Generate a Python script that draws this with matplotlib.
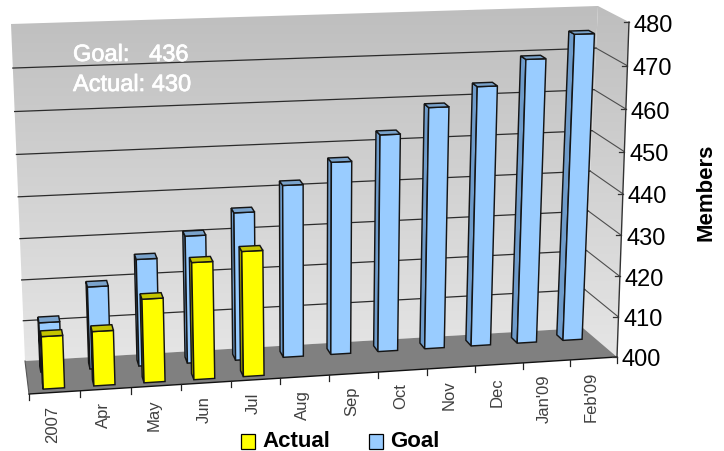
#!/usr/bin/env python3
import numpy as np
import matplotlib
matplotlib.use("Agg")
import matplotlib.pyplot as plt
import matplotlib.patheffects as pe
from matplotlib.patches import Polygon, Rectangle

# -------- Data --------
months = ["2007", "Apr", "May", "Jun", "Jul", "Aug", "Sep", "Oct", "Nov", "Dec", "Jan'09", "Feb'09"]
goal = [412, 420, 426, 431, 436, 442, 447, 453, 459, 463.5, 469.5, 475]
actual = [412.5, 413, 420, 428, 430]
value_ticks = [400, 410, 420, 430, 440, 450, 460, 470, 480]

# -------- Box corners in pixels: (front/back, left/right, bottom/top) --------
corners = {
    ("f", "l", "b"): (29, 395), ("f", "r", "b"): (617, 358),
    ("f", "l", "t"): (15, 42), ("f", "r", "t"): (629, 23),
    ("k", "l", "b"): (25, 362), ("k", "r", "b"): (583, 329),
    ("k", "l", "t"): (11, 25), ("k", "r", "t"): (598, 7),
}
N = len(months)
VMIN, VMAX = value_ticks[0], value_ticks[-1]


def persp(t, r):
    return r * t / (r * t + 1 - t)


def project(u, v, d):
    # u = category position, v = axis value, d = depth (0 front, 1 back)
    s = persp(u / N, 1.045)
    h = persp((v - VMIN) / (VMAX - VMIN), 0.95)
    out = np.zeros(2)
    for dk, wd in (("f", 1 - d), ("k", d)):
        for xk, wx in (("l", 1 - s), ("r", s)):
            for yk, wy in (("b", 1 - h), ("t", h)):
                out += wd * wx * wy * np.array(corners[(dk, xk, yk)])
    return tuple(out)


def gradient_poly(ax, pts, top_col, bottom_col, z):
    ys = [p[1] for p in pts]
    xs = [p[0] for p in pts]
    img = np.linspace(0, 1, 256).reshape(-1, 1, 1)
    rgb = (1 - img) * np.array(top_col) + img * np.array(bottom_col)
    im = ax.imshow(rgb, extent=[min(xs), max(xs), max(ys), min(ys)], aspect="auto", zorder=z)
    im.set_clip_path(Polygon(pts, transform=ax.transData))


def draw_bar(ax, u, value, d0, d1, front, shade, top):
    w = 0.21
    l, r = u - w, u + w
    side_face = [project(l, VMIN, d0), project(l, VMIN, d1), project(l, value, d1), project(l, value, d0)]
    front_face = [project(l, VMIN, d0), project(r, VMIN, d0), project(r, value, d0), project(l, value, d0)]
    top_face = [project(l, value, d0), project(r, value, d0), project(r, value, d1), project(l, value, d1)]
    for pts, col in ((side_face, shade), (front_face, front), (top_face, top)):
        ax.add_patch(Polygon(pts, closed=True, facecolor=col, edgecolor="#141414", lw=1.05, zorder=5))


# -------- Figure --------
fig = plt.figure(figsize=(7.24, 4.52), dpi=100)
ax = fig.add_axes([0, 0, 1, 1])
plt.rcParams["font.family"] = ["Liberation Sans", "DejaVu Sans"]
ax.axis("off")

# Walls
back_wall = [project(0, VMIN, 1), project(N, VMIN, 1), project(N, VMAX, 1), project(0, VMAX, 1)]
side_wall = [project(N, VMIN, 1), project(N, VMIN, 0), project(N, VMAX, 0), project(N, VMAX, 1)]
gradient_poly(ax, back_wall, (0.745, 0.745, 0.745), (0.90, 0.90, 0.90), 1)
gradient_poly(ax, side_wall, (0.745, 0.745, 0.745), (0.90, 0.90, 0.90), 1)
ax.set_xlim(0, 724)
ax.set_ylim(452, 0)

# Gridlines on both walls
for v in value_ticks[1:-1]:
    a, b, c = project(0, v, 1), project(N, v, 1), project(N, v, 0)
    ax.plot([a[0], b[0]], [a[1], b[1]], color="#2b2b2b", lw=0.9, zorder=2)
    ax.plot([b[0], c[0]], [b[1], c[1]], color="#4d4d4d", lw=0.8, zorder=2)

# Floor
floor = [project(0, VMIN, 0), project(N, VMIN, 0), project(N, VMIN, 1), project(0, VMIN, 1)]
ax.add_patch(Polygon(floor, closed=True, facecolor="#808080", edgecolor="none", zorder=3))

# Axes lines and ticks
p0, p1 = project(0, VMIN, 0), project(N, VMIN, 0)
ax.plot([p0[0], p1[0]], [p0[1], p1[1]], color="#111111", lw=1.0, zorder=4)
p2, p3 = project(N, VMIN, 0), project(N, VMAX, 0)
ax.plot([p2[0], p3[0]], [p2[1], p3[1]], color="#333333", lw=1.0, zorder=4)
p4 = project(0, VMIN, 1)
ax.plot([p0[0], p4[0]], [p0[1], p4[1]], color="#555555", lw=0.8, zorder=4)
for i in range(N + 1):
    p = project(i, VMIN, 0)
    ax.plot([p[0], p[0]], [p[1], p[1] + 6], color="#222222", lw=0.9, zorder=4)

for v in value_ticks:
    p = project(N, v, 0)
    ax.plot([p[0] - 5, p[0]], [p[1], p[1]], color="#333333", lw=0.9, zorder=4)
    ax.text(p[0] + 5, p[1], str(v), fontsize=17, color="black", ha="left", va="center_baseline")

for i, m in enumerate(months):
    p = project(i + 0.5, VMIN, 0)
    ax.text(p[0] - 2, p[1] + 12, m, rotation=90, fontsize=12, color="#404040", ha="center", va="top")

# Bars: goal row sits behind the actual row
for i, g in enumerate(goal):
    draw_bar(ax, i + 0.5, g, 0.64, 0.83, "#99CCFF", "#6F9CCB", "#7AA3CC")
for i, a in enumerate(actual):
    draw_bar(ax, i + 0.5, a, 0.12, 0.31, "#FFFF00", "#999900", "#C4C400")

# Annotation and labels
halo = [pe.withStroke(linewidth=0.5, foreground="white")]
ax.text(73, 56, "Goal:   436", fontsize=17, color="white", ha="left", va="center", zorder=6, path_effects=halo)
ax.text(73, 86, "Actual: 430", fontsize=17, color="white", ha="left", va="center", zorder=6, path_effects=halo)
ax.text(706, 192, "Members", rotation=90, fontsize=16, fontweight="bold", ha="center", va="center")

# Legend
ax.add_patch(Rectangle((241, 435), 14, 15, facecolor="#FFFF00", edgecolor="black", lw=0.9))
ax.text(262, 447, "Actual", fontsize=16, fontweight="bold", ha="left", va="baseline")
ax.add_patch(Rectangle((369, 435), 14, 15, facecolor="#99CCFF", edgecolor="black", lw=0.9))
ax.text(390, 447, "Goal", fontsize=16, fontweight="bold", ha="left", va="baseline")

fig.savefig("out.png", dpi=100)
